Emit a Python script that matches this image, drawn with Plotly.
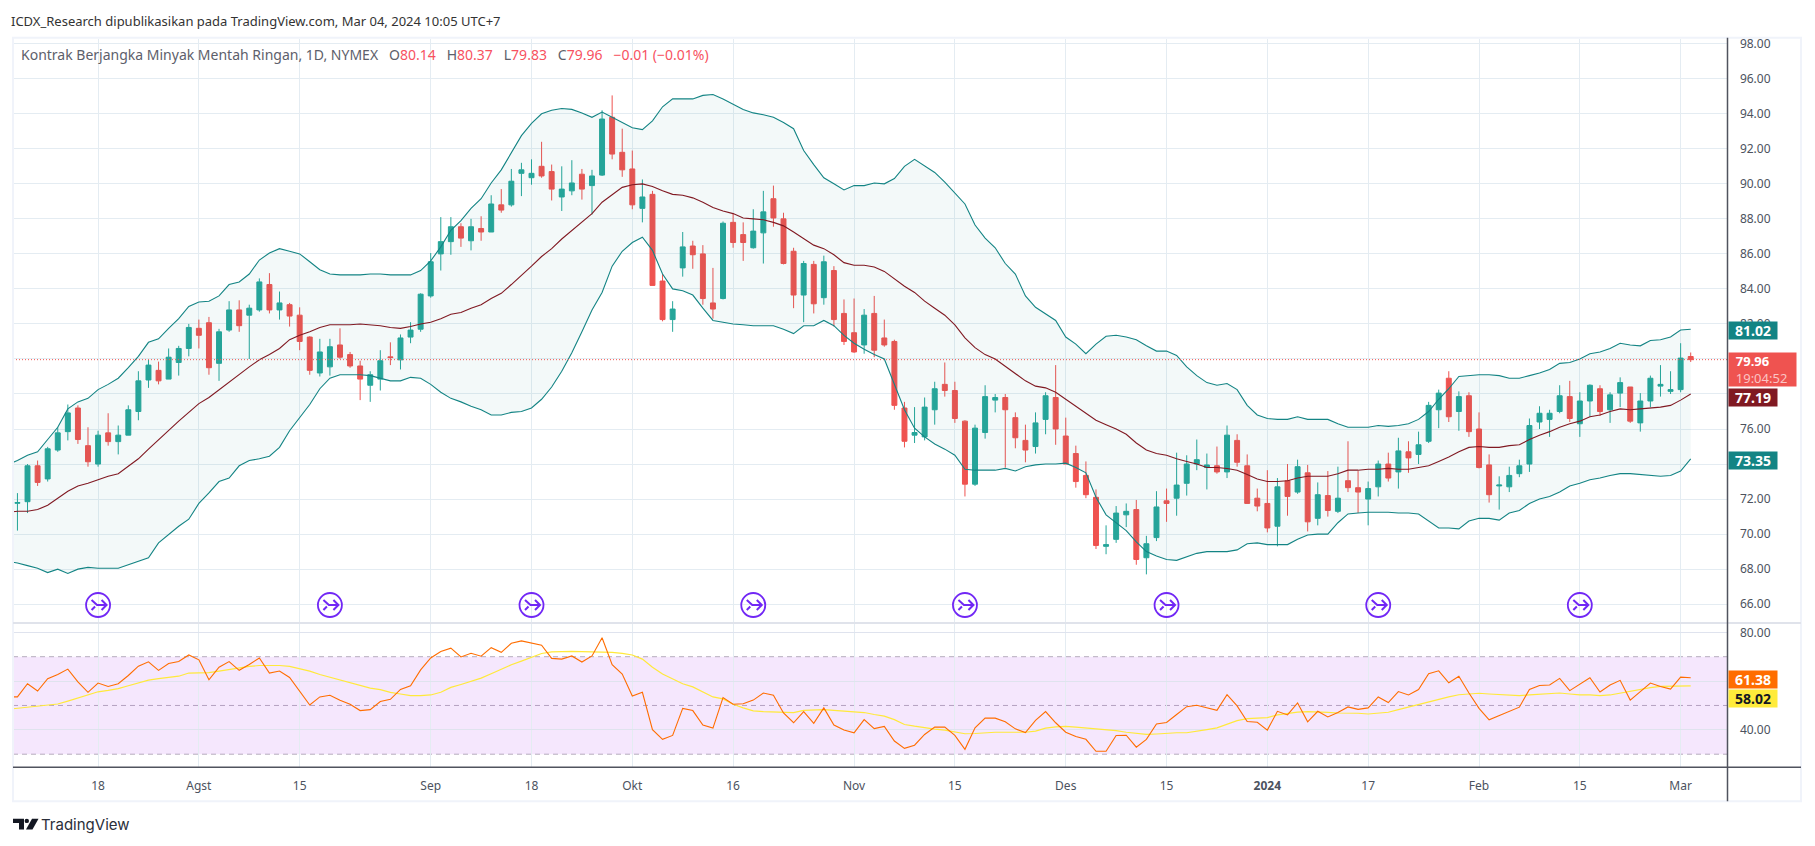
import plotly.graph_objects as go

W, H = 1815, 846
FONT = "Noto Sans"
TXT = "#4c525e"

# ---- data ----
bars = list(range(167))
line_bars = list(range(-1, 167))
opens = [71.76,71.85,73.9,73.15,74.8,75.85,77.2,75.05,74.0,75.78,75.28,75.65,77.0,78.8,79.35,78.85,79.8,80.6,81.75,82.07,79.75,81.65,82.8,82.5,82.8,84.25,82.8,83.1,82.5,81.25,79.2,79.55,80.8,80.25,79.6,78.5,78.85,80.12,79.95,81.25,81.7,83.6,86.0,86.7,87.55,86.75,87.45,87.25,88.8,88.8,90.6,90.35,91.0,90.7,89.25,89.6,90.55,89.9,90.5,93.8,91.8,90.85,88.6,89.4,84.45,82.25,85.2,86.45,86.0,83.2,83.45,87.8,87.1,86.35,87.2,89.15,88.0,86.15,83.65,85.4,83.5,85.05,82.6,81.5,80.8,82.6,81.2,81.0,77.2,75.65,75.55,77.1,78.55,78.2,76.45,72.85,75.8,77.65,77.8,76.65,75.35,75.0,76.55,77.8,75.6,74.6,73.35,72.1,69.3,69.7,71.1,71.4,68.65,69.8,71.9,72.05,72.9,74.0,73.8,73.9,73.55,75.35,73.9,72.05,71.75,70.45,73.05,72.4,73.5,70.9,72.2,71.3,73.05,72.65,72.0,72.7,74.0,73.55,74.7,74.55,75.3,77.1,78.9,77.0,77.9,76.0,73.95,72.75,72.7,73.45,74.0,76.4,76.55,77.0,77.85,76.3,77.6,78.3,77.1,78.05,78.4,76.35,77.6,78.45,78.15,78.25,80.14]
highs = [72.34,74.0,74.2,74.98,76.1,77.4,77.35,76.1,75.9,76.9,76.2,77.35,79.3,79.95,79.85,80.6,80.75,82.0,82.25,82.4,81.72,83.3,83.35,83.1,84.6,84.9,83.85,83.2,82.95,81.3,81.15,81.15,81.75,80.4,79.9,79.3,80.5,80.95,81.4,82.1,83.75,86.05,88.1,88.1,87.75,88.0,88.15,89.35,89.7,90.85,91.2,91.4,92.4,91.1,91.0,91.35,90.85,90.8,94.2,95.05,93.15,91.9,90.25,89.6,84.85,83.3,87.25,86.75,86.5,85.2,87.85,88.3,87.8,88.55,89.6,89.9,88.35,86.35,85.6,85.6,85.9,85.3,83.4,83.45,82.85,83.6,82.25,81.1,77.55,77.25,77.8,78.7,79.8,78.7,76.5,76.25,78.5,78.0,78.0,76.95,76.25,76.95,78.1,79.65,76.65,75.05,74.15,72.55,70.5,71.6,71.75,71.95,69.9,72.45,72.6,74.65,74.5,75.4,74.6,75.0,76.2,75.7,74.55,72.6,73.65,73.2,74.0,74.25,73.95,72.95,73.6,73.85,75.3,73.6,73.0,74.2,74.65,75.5,75.3,75.85,77.55,78.25,79.3,78.15,78.1,76.95,74.55,73.3,73.85,74.25,76.6,77.3,77.1,78.5,78.75,78.1,78.55,78.5,78.1,78.95,78.4,78.05,79.05,79.65,79.3,80.9,80.37]
lows = [70.2,71.2,72.75,73.0,74.7,75.35,75.15,73.85,73.85,75.05,74.55,75.65,76.5,78.35,78.55,78.85,79.05,80.15,80.6,79.1,78.75,81.55,81.55,80.0,82.7,82.6,82.25,81.85,80.5,79.1,79.0,79.05,80.0,79.5,77.65,77.55,78.2,79.65,79.4,80.9,81.55,83.5,85.05,85.95,86.4,86.2,86.75,87.25,88.35,88.7,89.3,89.95,90.35,89.05,88.45,89.35,89.1,88.25,90.45,91.4,90.4,88.55,87.8,84.2,82.15,81.55,84.7,85.15,83.1,82.3,83.4,86.35,85.6,86.3,85.45,87.55,85.4,82.9,82.1,82.6,83.1,81.85,80.8,80.35,80.3,80.1,80.7,77.1,74.95,75.2,75.35,76.25,77.85,76.35,72.15,72.75,75.45,76.95,73.8,74.9,74.1,74.6,75.7,75.1,74.0,72.65,72.05,69.15,68.85,69.5,70.4,68.25,67.7,69.6,70.7,71.05,72.2,73.65,72.55,73.45,73.2,73.85,71.75,71.3,70.1,69.3,71.05,72.3,70.15,70.5,71.0,71.2,72.4,71.2,70.5,72.15,73.0,72.6,73.5,74.0,75.2,76.05,76.4,75.9,75.55,73.75,71.8,71.4,72.4,73.25,73.55,76.0,75.55,76.9,76.4,75.55,76.7,76.75,76.35,77.25,76.35,75.85,77.25,77.85,78.0,78.1,79.83]
closes = [71.8,73.9,72.95,74.87,75.78,76.92,75.4,74.13,75.65,75.28,75.65,77.1,78.75,79.65,78.75,80.1,80.6,81.8,81.35,79.5,81.55,82.8,81.9,82.9,84.4,82.8,83.2,82.45,81.0,79.35,80.4,80.7,80.1,79.6,78.85,79.1,79.9,80.08,81.2,81.65,83.7,85.55,86.7,87.55,86.9,87.55,87.25,88.85,88.5,90.15,90.8,90.6,90.45,89.7,89.7,90.05,89.7,90.45,93.7,91.7,90.8,88.8,89.25,84.2,82.25,82.85,86.4,85.95,83.45,82.85,87.75,86.65,86.65,87.3,88.4,88.05,85.45,83.65,85.45,83.15,85.55,82.25,81.0,80.4,82.5,80.5,80.8,77.35,75.3,75.8,77.25,78.3,78.2,76.6,72.85,76.05,77.85,77.8,77.1,75.5,74.8,76.35,77.9,76.0,74.0,73.0,72.25,69.35,69.4,71.2,71.3,68.55,69.45,71.55,71.75,72.8,74.0,74.25,73.95,73.55,75.65,74.1,71.75,71.6,70.35,72.7,72.15,73.85,70.7,72.25,71.35,72.05,72.65,72.4,72.6,74.0,73.2,74.75,74.35,75.1,77.35,78.05,76.7,77.85,75.85,73.8,72.25,72.8,73.35,73.9,76.2,76.9,76.9,77.9,76.6,77.6,78.5,77.0,77.95,78.65,76.45,77.6,78.9,78.55,78.25,80.05,79.96]

bb_upper = [73.95,74.2,74.5,74.7,75.4,76.1,77.15,77.55,77.75,78.25,78.55,78.9,79.5,80.15,80.95,81.15,81.75,82.3,83.0,83.25,83.3,83.6,84.25,84.4,84.85,85.65,86.05,86.3,86.15,86.0,85.55,85.1,84.85,84.8,84.8,84.8,84.85,84.85,84.8,84.8,84.8,85.05,85.6,86.4,87.35,87.9,88.6,89.15,90.05,90.8,91.75,92.75,93.45,94.0,94.2,94.3,94.25,94.05,93.8,94.1,93.8,93.5,93.2,93.1,93.6,94.4,94.85,94.85,94.85,95.05,95.1,94.85,94.55,94.25,94.05,93.95,93.8,93.5,93.15,91.9,91.1,90.35,90.0,89.65,89.9,89.9,90.05,90.0,90.3,91.0,91.4,91.0,90.65,90.1,89.5,88.85,87.65,86.9,86.35,85.45,84.85,83.6,82.95,82.55,82.2,81.25,80.85,80.3,80.85,81.3,81.35,81.25,81.1,80.75,80.45,80.45,80.2,79.55,79.05,78.65,78.5,78.6,78.25,77.35,76.8,76.6,76.55,76.55,76.7,76.55,76.55,76.55,76.3,76.1,76.1,76.1,76.2,76.15,76.2,76.3,76.55,77.0,77.7,78.3,79.0,79.05,79.1,79.1,79.05,78.9,78.9,79.05,79.2,79.4,79.75,79.8,80.0,80.3,80.4,80.6,80.9,80.8,80.75,81.05,81.1,81.25,81.65,81.7]
bb_mid = [71.25,71.3,71.3,71.4,71.65,72.05,72.45,72.75,72.9,73.1,73.3,73.45,73.85,74.3,74.85,75.4,75.9,76.45,76.95,77.45,77.8,78.25,78.7,79.15,79.55,79.95,80.25,80.6,81.1,81.35,81.55,81.8,81.95,81.95,81.95,82.0,81.95,81.9,81.8,81.75,81.85,82.0,82.1,82.3,82.55,82.65,82.9,83.1,83.45,83.75,84.25,84.75,85.3,85.85,86.3,86.85,87.35,87.85,88.3,88.95,89.4,89.8,89.95,90.0,89.85,89.6,89.4,89.35,89.2,88.95,88.65,88.45,88.3,88.05,88.0,87.95,87.8,87.6,87.25,86.85,86.5,86.3,85.95,85.5,85.35,85.35,85.25,85.0,84.55,84.15,83.8,83.3,82.9,82.5,81.95,81.2,80.65,80.25,80.0,79.6,79.2,78.75,78.45,78.35,78.1,77.7,77.3,76.9,76.5,76.25,76.0,75.7,75.2,74.8,74.6,74.5,74.3,74.15,74.0,73.8,73.8,73.75,73.65,73.4,73.15,73.0,73.0,73.05,73.2,73.3,73.3,73.3,73.45,73.65,73.65,73.7,73.7,73.75,73.7,73.7,73.8,73.9,74.15,74.4,74.7,74.95,75.0,74.95,74.95,75.05,75.1,75.4,75.65,75.85,76.1,76.3,76.45,76.7,76.8,77.0,77.15,77.1,77.15,77.2,77.25,77.35,77.65,78.0]
bb_lower = [68.45,68.35,68.2,68.05,67.8,68.0,67.75,68.0,68.1,68.05,68.05,68.05,68.25,68.45,68.65,69.5,70.0,70.45,70.85,71.75,72.35,73.0,73.2,73.9,74.2,74.3,74.45,74.95,75.9,76.65,77.4,78.3,78.9,79.1,79.1,79.1,79.05,78.9,78.75,78.75,78.95,78.9,78.55,78.1,77.75,77.55,77.3,77.1,76.8,76.8,76.95,77.0,77.2,77.7,78.4,79.3,80.35,81.55,82.8,83.8,85.3,86.15,86.65,86.95,86.2,84.85,84.0,83.9,83.65,82.9,82.2,82.1,82.0,81.95,81.9,81.9,81.9,81.7,81.45,81.9,81.9,82.2,81.9,81.35,80.9,80.55,80.25,80.0,78.55,77.1,76.05,75.55,75.15,74.85,74.5,73.7,73.65,73.65,73.65,73.75,73.6,73.85,73.95,74.0,74.0,74.05,73.8,73.5,72.1,71.1,70.65,70.2,69.55,69.0,68.75,68.55,68.5,68.7,68.9,69.0,69.0,69.0,69.1,69.45,69.5,69.4,69.4,69.4,69.7,69.95,70.0,70.0,70.65,71.15,71.2,71.25,71.25,71.25,71.2,71.2,71.15,70.75,70.35,70.35,70.3,70.75,70.9,70.9,70.8,71.2,71.35,71.75,72.0,72.15,72.4,72.75,72.9,73.1,73.2,73.35,73.45,73.45,73.4,73.35,73.3,73.35,73.6,74.3]

rsi = [53.5,53.5,58.9,55.9,61.0,62.7,64.9,59.7,55.4,59.2,57.8,58.9,62.3,66.1,67.9,64.4,67.2,68.0,70.7,68.7,60.5,65.7,68.0,64.4,66.8,69.5,63.3,64.1,61.5,55.8,50.2,53.5,54.2,52.1,50.5,47.9,48.3,51.6,52.5,56.6,58.1,64.6,69.5,72.1,73.5,69.9,71.4,70.2,73.7,71.8,75.5,76.5,75.5,74.7,69.3,69.0,70.3,67.8,70.3,77.8,66.7,62.9,53.9,55.4,40.1,36.1,37.7,48.8,47.9,42.0,40.7,53.2,50.5,50.7,52.2,55.1,54.2,46.9,42.9,47.5,42.7,49.0,42.0,39.9,38.8,44.2,40.5,41.4,35.4,32.4,33.7,38.1,41.1,41.1,37.7,32.0,40.8,44.8,44.8,43.3,40.4,38.9,43.9,47.5,42.9,39.0,37.3,36.1,31.2,31.2,37.7,37.8,32.9,36.1,42.4,43.0,46.3,49.5,50.1,49.0,48.0,54.4,49.8,43.4,43.1,39.9,47.6,46.1,51.0,43.3,47.6,45.3,47.1,49.4,48.4,49.0,53.5,51.2,55.7,54.3,56.5,63.0,64.2,59.3,62.0,55.1,48.8,44.1,45.9,47.6,49.3,56.6,58.2,58.4,61.1,56.1,58.9,61.4,55.5,58.4,60.3,52.2,55.7,59.2,57.8,56.7,61.6,61.38]
rsi_ma = [48.4,48.8,49.3,49.8,50.3,50.6,51.8,53.0,54.4,55.6,56.2,56.9,58.1,59.3,60.4,61.0,61.6,62.0,63.3,63.5,63.5,64.1,64.8,65.3,66.0,66.4,66.5,66.4,66.0,65.2,64.1,62.7,61.6,60.4,59.5,58.1,57.1,56.5,55.4,54.7,54.0,54.0,54.3,55.4,57.4,58.6,60.0,61.2,63.0,64.9,66.7,68.2,69.8,71.3,72.0,72.2,72.2,72.1,72.0,72.1,71.8,71.4,70.7,69.0,65.7,62.9,60.8,58.9,57.6,55.5,53.5,52.7,50.5,49.0,47.8,47.5,47.3,47.2,47.1,48.0,48.3,48.3,48.0,47.8,47.6,47.1,46.3,45.6,44.2,42.2,41.5,40.8,40.3,39.9,39.2,38.4,38.5,38.8,39.0,39.0,39.0,39.0,39.5,40.7,41.2,41.4,41.1,40.8,40.4,40.1,39.7,39.0,38.5,38.1,38.3,38.6,38.8,38.8,39.3,40.1,40.8,42.2,43.8,44.6,44.9,45.0,46.1,46.8,47.3,47.5,47.5,47.2,46.9,46.9,46.8,46.5,46.8,47.2,48.3,49.4,50.3,51.4,52.5,53.5,54.4,54.8,55.0,54.7,54.4,54.2,54.0,54.3,54.6,54.8,55.1,54.7,54.3,54.3,54.0,54.3,55.1,55.8,56.6,57.3,57.8,57.8,58.0,58.02]

tick_bars = [8,18,28,41,51,61,71,83,93,104,114,124,134,145,155,165]
tick_labels = ["18","Agst","15","Sep","18","Okt","16","Nov","15","Des","15","<b>2024</b>","17","Feb","15","Mar"]
price_ticks = list(range(66,100,2))
rsi_ticks = [40,60,80]
rsi_tick_labels = ["40.00","","80.00"]
event_bars = [8,31,51,73,94,114,135,155]
last_price = 79.96

# ---- pixel helpers (layout only) ----
xp = lambda x: x / W
yp = lambda y: 1 - y / H
L_, R_, T_, D_, A_, F_ = 13, 1727.5, 35, 622, 767, 801
x_range = [-0.44, 169.65]

fig = go.Figure()

# RSI pane
fig.add_trace(go.Scatter(x=line_bars, y=rsi_ma, mode="lines", line=dict(color="#ffe93b", width=1.2), xaxis="x", yaxis="y"))
fig.add_trace(go.Scatter(x=line_bars, y=rsi, mode="lines", line=dict(color="#ff6d00", width=1.1), xaxis="x", yaxis="y"))

# Bollinger
TEAL = "#138484"
fig.add_trace(go.Scatter(x=line_bars, y=bb_lower, mode="lines", line=dict(color=TEAL, width=1.1), xaxis="x2", yaxis="y2"))
fig.add_trace(go.Scatter(x=line_bars, y=bb_upper, mode="lines", line=dict(color=TEAL, width=1.1), fill="tonexty",
                         fillcolor="rgba(19,132,132,0.05)", xaxis="x2", yaxis="y2"))
fig.add_trace(go.Scatter(x=line_bars, y=bb_mid, mode="lines", line=dict(color="#801922", width=1.1), xaxis="x2", yaxis="y2"))

# candles
fig.add_trace(go.Candlestick(x=bars, open=opens, high=highs, low=lows, close=closes, xaxis="x2", yaxis="y2",
    increasing=dict(line=dict(color="#26a69a", width=1), fillcolor="#26a69a"),
    decreasing=dict(line=dict(color="#ef5350", width=1), fillcolor="#ef5350"), whiskerwidth=0))

# events
PURPLE = "#7127f5"
fig.add_trace(go.Scatter(x=event_bars, y=[65.95]*len(event_bars), mode="markers", xaxis="x2", yaxis="y2",
    marker=dict(symbol="circle-open", size=24, color=PURPLE, line=dict(color=PURPLE, width=1.8))))

shapes = []
# RSI band
shapes.append(dict(type="rect", xref="x", yref="y", x0=x_range[0], x1=x_range[1], y0=30, y1=70,
                   fillcolor="rgba(145,5,235,0.095)", line_width=0, layer="below"))
for lv in (70, 50, 30):
    shapes.append(dict(type="line", xref="paper", yref="y", x0=xp(L_), x1=xp(R_), y0=lv, y1=lv,
                       line=dict(color="#b8b3bd", width=1, dash="5px,4px"), layer="below"))
# last-price dotted line
shapes.append(dict(type="line", xref="paper", yref="y2", x0=xp(L_), x1=xp(R_), y0=last_price, y1=last_price,
                   line=dict(color="#ef5350", width=1, dash="1px,2px")))
# event glyphs
for b in event_bars:
    shapes.append(dict(type="path", xref="x2", yref="y2", xsizemode="pixel", ysizemode="pixel",
                       xanchor=b, yanchor=65.95,
                       path="M-6.5,5 L-1,0 L8.5,0 M-6.5,-5 L-3,-1.5 M3.5,5 L8.5,0 L3.5,-5",
                       line=dict(color=PURPLE, width=2)))
# frame and dividers
GR = "#f0f3fa"
shapes += [
    dict(type="rect", xref="paper", yref="paper", x0=xp(L_), x1=xp(1801), y0=yp(F_), y1=yp(34),
         line=dict(color=GR, width=2), layer="above"),
    dict(type="line", xref="paper", yref="paper", x0=xp(L_), x1=xp(1801), y0=yp(D_), y1=yp(D_),
         line=dict(color="#e0e3eb", width=2)),
    dict(type="line", xref="paper", yref="paper", x0=xp(L_), x1=xp(1801), y0=yp(A_), y1=yp(A_),
         line=dict(color="#50535e", width=1.5)),
    dict(type="line", xref="paper", yref="paper", x0=xp(R_), x1=xp(R_), y0=yp(F_), y1=yp(34),
         line=dict(color="#50535e", width=1.5)),
]
# logo
def P(pts):
    return "M" + " L".join(f"{xp(a):.5f},{yp(b):.5f}" for a, b in pts) + " Z"
DK = "#131722"
shapes += [
    dict(type="path", xref="paper", yref="paper", fillcolor=DK, line_width=0,
         path=P([(13,818.5),(24,818.5),(24,829.5),(19,829.5),(19,823),(13,823)])),
    dict(type="circle", xref="paper", yref="paper", fillcolor=DK, line_width=0,
         x0=xp(24.6), x1=xp(29), y0=yp(823), y1=yp(818.6)),
    dict(type="path", xref="paper", yref="paper", fillcolor=DK, line_width=0,
         path=P([(32,818.5),(38.5,818.5),(32.5,829.5),(26,829.5)])),
]
fig.update_layout(shapes=shapes)

def box(text, y0, y1, bg, fg="#ffffff", width=48, size=14, align="center"):
    return dict(xref="paper", yref="paper", x=xp(1727.5), y=yp(y0), xanchor="left", yanchor="top",
                text=text, showarrow=False, bgcolor=bg, width=width, height=y1 - y0 - 2, borderpad=0,
                align=align, valign="middle", font=dict(family=FONT, size=size, color=fg))

G1 = '<span style="color:#5d606b">'
R1 = '<span style="color:#f7525f">'
GAP = "&nbsp;&nbsp;&nbsp;"
legend_txt = (f'{G1}Kontrak Berjangka Minyak Mentah Ringan, 1D, NYMEX{GAP}O</span>'
              f'{R1}80.14</span>{G1}{GAP}H</span>'
              f'{R1}80.37</span>{G1}{GAP}L</span>'
              f'{R1}79.83</span>{G1}{GAP}C</span>'
              f'{R1}79.96{GAP}−0.01 (−0.01%)</span>')

annots = [
    dict(xref="paper", yref="paper", x=xp(9), y=yp(17), xanchor="left", yanchor="middle", showarrow=False,
         text="ICDX_Research dipublikasikan pada TradingView.com, Mar 04, 2024 10:05 UTC+7",
         font=dict(family=FONT, size=13, color="#333333")),
    dict(xref="paper", yref="paper", x=xp(19), y=yp(51), xanchor="left", yanchor="middle", showarrow=False,
         text=legend_txt, font=dict(family=FONT, size=14, color="#5d606b")),
    dict(xref="paper", yref="paper", x=xp(39), y=yp(824), xanchor="left", yanchor="middle", showarrow=False,
         text="TradingView", font=dict(family="Inter", size=15, color="#2a2e39")),
    box("<b>81.02</b>", 319, 338, TEAL),
    box("&nbsp;&nbsp;<b>79.96</b><br>&nbsp;&nbsp;<span style='color:#fbc4c4'>19:04:52</span>", 349.5, 384, "#ef5350", width=67, align="left", size=13),
    box("<b>77.19</b>", 385.5, 404, "#801922"),
    box("<b>73.35</b>", 449.5, 468, TEAL),
    box("<b>61.38</b>", 669, 688, "#ff6d00"),
    box("<b>58.02</b>", 688, 707, "#ffeb3b", fg="#131722"),
]

GRID = "#e4ecf2"
axis_font = dict(family=FONT, size=12, color=TXT)
fig.update_layout(
    width=W, height=H, margin=dict(l=0, r=0, t=0, b=0), autosize=False,
    paper_bgcolor="#ffffff", plot_bgcolor="#ffffff", showlegend=False, hovermode=False,
    annotations=annots,
    xaxis=dict(domain=[xp(L_), xp(R_)], range=x_range, anchor="y", tickvals=tick_bars, ticktext=tick_labels,
               tickangle=0, showgrid=True, gridcolor=GRID, gridwidth=1, zeroline=False, showline=False,
               ticks="outside", ticklen=7, tickcolor="rgba(0,0,0,0)", tickfont=axis_font),
    xaxis2=dict(domain=[xp(L_), xp(R_)], range=x_range, anchor="y2", matches="x", tickvals=tick_bars,
                showticklabels=False, showgrid=True, gridcolor=GRID, gridwidth=1, zeroline=False,
                showline=False, rangeslider=dict(visible=False), ticks=""),
    yaxis=dict(domain=[yp(A_), yp(D_)], range=[24.6, 83.8], anchor="x", side="right", tickvals=rsi_ticks,
               ticktext=rsi_tick_labels, showgrid=True, gridcolor="#dfe3ee", gridwidth=1, zeroline=False,
               showline=False, ticks="outside", ticklen=9, tickcolor="rgba(0,0,0,0)", tickfont=axis_font),
    yaxis2=dict(domain=[yp(D_), yp(T_)], range=[64.92, 98.28], anchor="x2", side="right", tickvals=price_ticks,
                ticktext=[f"{v:.2f}" for v in price_ticks], showgrid=True, gridcolor=GRID, gridwidth=1,
                zeroline=False, showline=False, ticks="outside", ticklen=9, tickcolor="rgba(0,0,0,0)",
                tickfont=axis_font),
)

fig.write_html("out.html", config=dict(displayModeBar=False),
               post_script="document.body.style.margin='0';document.body.style.overflow='hidden';")
